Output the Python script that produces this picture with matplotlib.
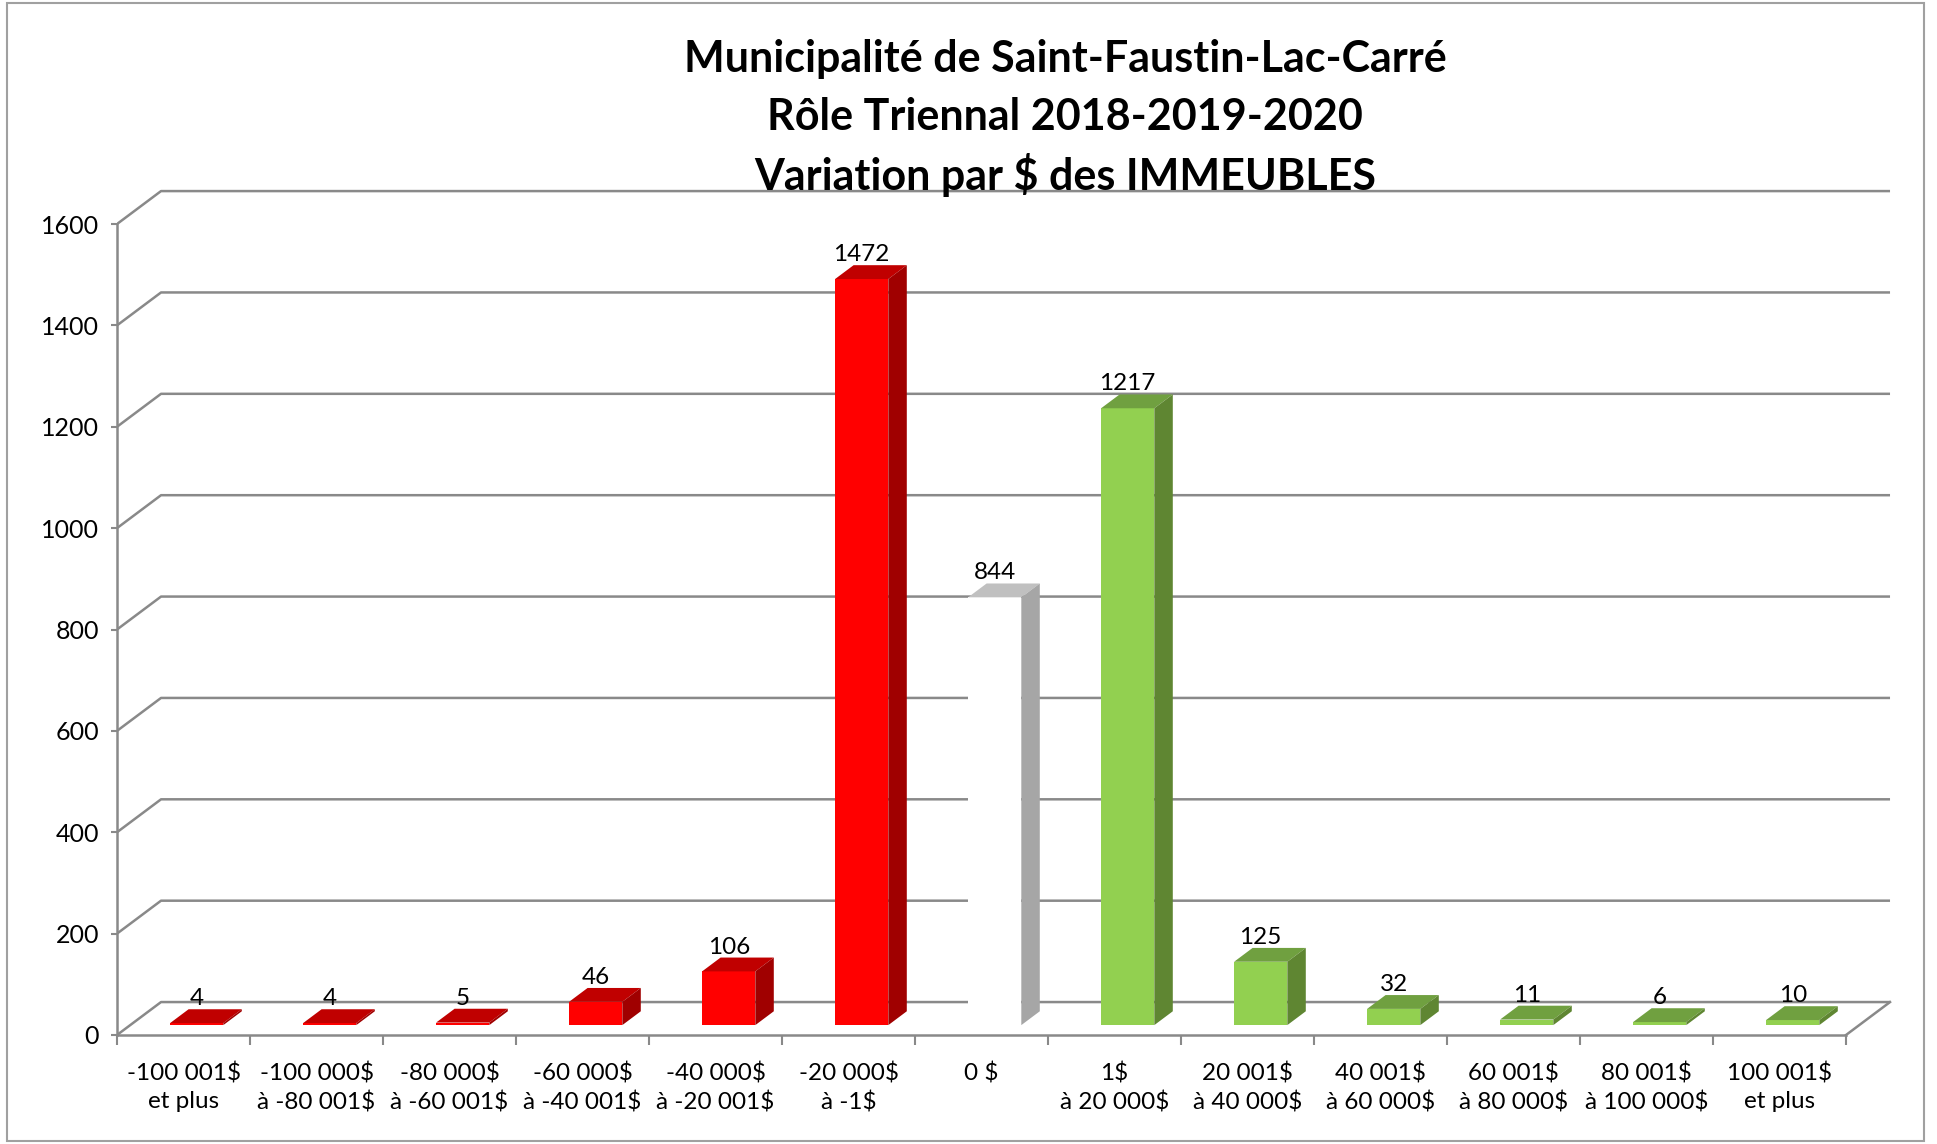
import matplotlib.pyplot as plt
from matplotlib.patches import Polygon, Rectangle

# Chart data
title_lines = [
    "Municipalité de Saint-Faustin-Lac-Carré",
    "Rôle Triennal 2018-2019-2020",
    "Variation par $ des IMMEUBLES",
]
categories = [
    "-100 001$\net plus", "-100 000$\nà -80 001$", "-80 000$\nà -60 001$",
    "-60 000$\nà -40 001$", "-40 000$\nà -20 001$", "-20 000$\nà -1$", "0 $",
    "1$\nà 20 000$", "20 001$\nà 40 000$", "40 001$\nà 60 000$",
    "60 001$\nà 80 000$", "80 001$\nà 100 000$", "100 001$\net plus",
]
counts = [4, 4, 5, 46, 106, 1472, 844, 1217, 125, 32, 11, 6, 10]
groups = ["baisse"] * 6 + ["stable"] + ["hausse"] * 6
y_ticks = [0, 200, 400, 600, 800, 1000, 1200, 1400, 1600]

# front, top, side colours
faces = {
    "baisse": ("#FF0000", "#C00000", "#A00000"),
    "stable": ("#FFFFFF", "#C0C0C0", "#A6A6A6"),
    "hausse": ("#92D050", "#70A040", "#5F8632"),
}
grid_color = "#898989"
font = "Lato"

# fake 3D: depth offset of the back wall in data units
DX, DY = 0.331, 65.0
Z0, Z1 = 0.30, 0.72      # bar front / back depth
BAR_W = 0.40

fig = plt.figure(figsize=(19.37, 11.44), dpi=100)
fig.patches.append(Rectangle((7 / 1937, 3 / 1144), 1917 / 1937, 1138 / 1144,
                             transform=fig.transFigure, fill=False,
                             edgecolor="#A0A0A0", linewidth=1.5))

ax = fig.add_axes([117 / 1937, 109 / 1144, 1783 / 1937, 850 / 1144])
n = len(categories)
ax.set_xlim(-0.5, n - 0.5 + 0.406)
ax.set_ylim(0, 1677)

# walls and floor grid
x0, x1 = -0.5, n - 0.5
for y in y_ticks:
    ax.plot([x0, x0 + DX, x1 + DX], [y, y + DY, y + DY],
            color=grid_color, linewidth=1.8, zorder=1, solid_capstyle="butt")
ax.plot([x1, x1 + DX], [0, DY], color=grid_color, linewidth=1.8, zorder=1)

# bars
for i, (v, g) in enumerate(zip(counts, groups)):
    front, top, side = faces[g]
    xl = i - BAR_W / 2 + Z0 * DX
    xr = xl + BAR_W
    yb = Z0 * DY
    ddx = (Z1 - Z0) * DX
    ddy = (Z1 - Z0) * DY
    ax.bar(xl, v, width=BAR_W, bottom=yb, align="edge", color=front,
           linewidth=0, zorder=3)
    ax.add_patch(Polygon([(xl, yb + v), (xr, yb + v), (xr + ddx, yb + v + ddy),
                          (xl + ddx, yb + v + ddy)], closed=True,
                         facecolor=top, edgecolor="none", zorder=4))
    ax.add_patch(Polygon([(xr, yb), (xr + ddx, yb + ddy), (xr + ddx, yb + v + ddy),
                          (xr, yb + v)], closed=True,
                         facecolor=side, edgecolor="none", zorder=4))
    ax.text(i + Z0 * DX, v + Z1 * DY, str(v), ha="center", va="bottom",
            fontsize=17.5, family=font, color="black", zorder=5)

# axes styling
for s in ["top", "right"]:
    ax.spines[s].set_visible(False)
ax.spines["left"].set_bounds(0, 1600)
ax.spines["bottom"].set_bounds(x0, x1)
for s in ["left", "bottom"]:
    ax.spines[s].set_color(grid_color)
    ax.spines[s].set_linewidth(1.8)

ax.set_yticks(y_ticks)
ax.set_yticklabels([str(t) for t in y_ticks], fontsize=18, family=font)
ax.tick_params(axis="y", length=4, width=1.5, color=grid_color, pad=9)

ax.set_xticks([k - 0.5 for k in range(n + 1)])
ax.set_xticklabels([])
ax.tick_params(axis="x", which="major", length=7, width=1.5, color=grid_color)
ax.set_xticks(range(n), minor=True)
ax.set_xticklabels(categories, minor=True, fontsize=17.5, family=font,
                   linespacing=1.35)
ax.tick_params(axis="x", which="minor", length=0, pad=20)

for k, line in enumerate(title_lines):
    fig.text(1065 / 1937, 1 - (59 + 58 * k) / 1144, line, ha="center",
             va="center", fontsize=31, fontweight="bold", family=font)

plt.savefig("out.png", dpi=100)
